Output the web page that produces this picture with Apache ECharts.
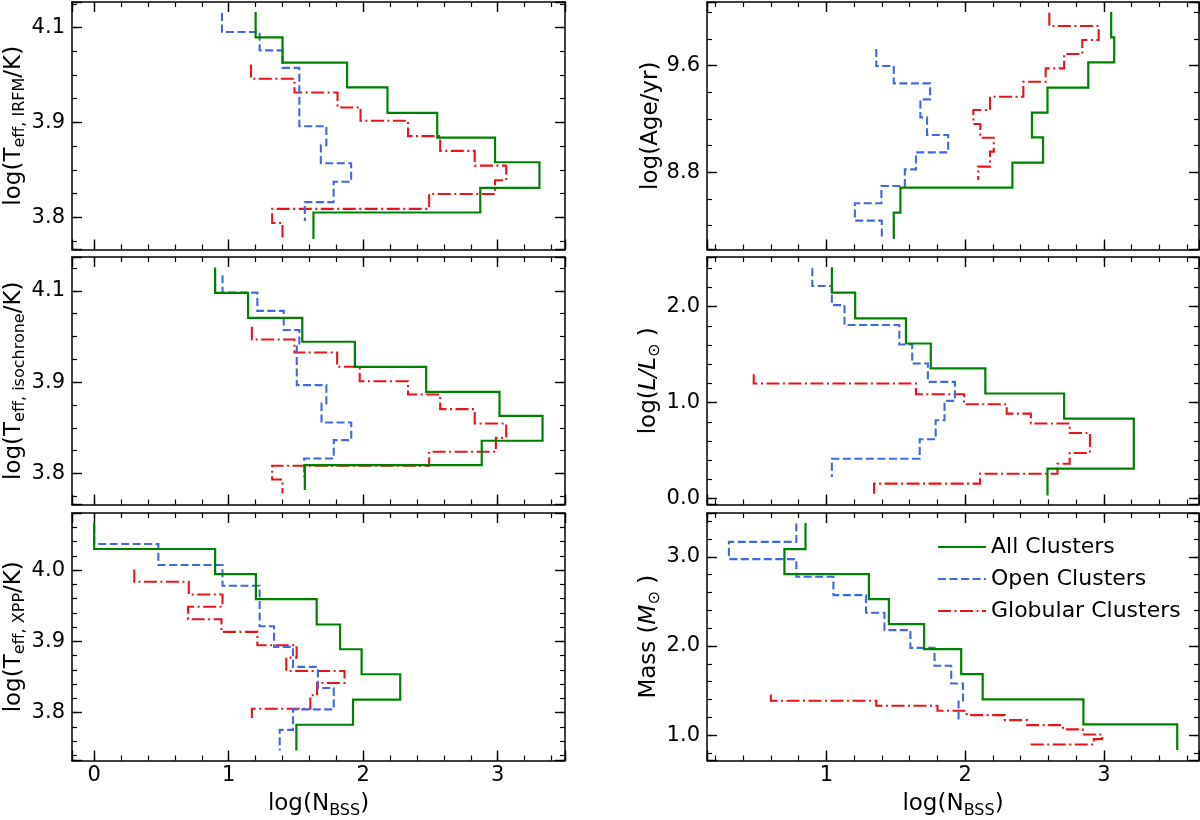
<!DOCTYPE html>
<html><head><meta charset="utf-8">
<script src="https://cdn.jsdelivr.net/npm/echarts@6/dist/echarts.min.js"></script>
<style>html,body{margin:0;padding:0;background:#fff}#chart{width:1200px;height:820px}</style>
</head><body><div id="chart"></div>
<script>
// ---------------- DATA ----------------
const seriesNames = ['All Clusters', 'Open Clusters', 'Globular Clusters'];

// Panel: log(Teff, IRFM)
const irfmAllEdges = [4.0165, 3.9898, 3.963, 3.937, 3.910, 3.884, 3.858, 3.831, 3.805, 3.777];
const irfmAllLogN = [1.20, 1.40, 1.88, 2.18, 2.55, 2.98, 3.31, 2.87, 1.63];
const irfmOpenEdges = [4.0154, 3.9954, 3.976, 3.9575, 3.896, 3.876, 3.857, 3.8375, 3.816, 3.796];
const irfmOpenLogN = [0.95, 1.23, 1.40, 1.525, 1.726, 1.685, 1.91, 1.78, 1.566];
const irfmGlobEdges = [3.961, 3.946, 3.9316, 3.9158, 3.9018, 3.8856, 3.870, 3.8544, 3.839, 3.8246, 3.8088, 3.794, 3.7786];
const irfmGlobLogN = [1.166, 1.489, 1.809, 1.98, 2.333, 2.572, 2.829, 3.063, 2.98, 2.49, 1.323, 1.40];

// Panel: log(Teff, isochrone)
const isoAllEdges = [4.0255, 3.9978, 3.9704, 3.9442, 3.9168, 3.8894, 3.8631, 3.8358, 3.8091, 3.7818];
const isoAllLogN = [0.899, 1.144, 1.547, 1.938, 2.468, 3.013, 3.333, 2.881, 1.566];
const isoOpenEdges = [4.017, 3.998, 3.978, 3.957, 3.9405, 3.8967, 3.8766, 3.8558, 3.8365, 3.8164, 3.796];
const isoOpenLogN = [0.954, 1.213, 1.409, 1.525, 1.506, 1.726, 1.69, 1.911, 1.781, 1.561];
const isoGlobEdges = [3.9606, 3.9467, 3.9325, 3.9168, 3.901, 3.8865, 3.8704, 3.8547, 3.839, 3.8237, 3.8084, 3.7934, 3.7781];
const isoGlobLogN = [1.172, 1.489, 1.806, 1.974, 2.333, 2.572, 2.829, 3.063, 2.986, 2.490, 1.323, 1.40];

// Panel: log(Teff, XPP)
const xppAllEdges = [4.0665, 4.0295, 3.9944, 3.9593, 3.9237, 3.889, 3.8539, 3.8183, 3.7831, 3.747];
const xppAllLogN = [0, 0.899, 1.202, 1.654, 1.828, 1.988, 2.275, 1.924, 1.503];
const xppOpenEdges = [4.0632, 4.0365, 4.007, 3.978, 3.9213, 3.8923, 3.8642, 3.8347, 3.8047, 3.776, 3.747];
const xppOpenLogN = [0, 0.477, 0.954, 1.23, 1.337, 1.478, 1.663, 1.781, 1.478, 1.379];
const xppGlobEdges = [4.0009, 3.9836, 3.9658, 3.9485, 3.9311, 3.9133, 3.8946, 3.8773, 3.8585, 3.8417, 3.8244, 3.8056, 3.7892];
const xppGlobLogN = [0.298, 0.703, 0.954, 0.698, 0.946, 1.213, 1.505, 1.428, 1.861, 1.657, 1.607, 1.172];

// Panel: log(Age/yr)
const ageAllEdges = [10.005, 9.8125, 9.625, 9.435, 9.2475, 9.0625, 8.8725, 8.685, 8.4975, 8.30];
const ageAllLogN = [3.053, 3.075, 2.888, 2.594, 2.482, 2.562, 2.341, 1.534, 1.486];
const ageOpenEdges = [9.725, 9.5975, 9.4675, 9.3475, 9.2125, 9.08, 8.95, 8.8225, 8.6975, 8.5675, 8.4375, 8.305];
const ageOpenLogN = [1.36, 1.486, 1.748, 1.678, 1.726, 1.878, 1.646, 1.566, 1.397, 1.206, 1.40];
const ageGlobEdges = [9.9975, 9.8975, 9.7925, 9.6875, 9.58, 9.48, 9.3675, 9.2675, 9.1625, 9.06, 8.955, 8.8425, 8.7425];
const ageGlobLogN = [2.607, 2.963, 2.845, 2.714, 2.581, 2.42, 2.18, 2.06, 2.11, 2.207, 2.18, 2.095];

// Panel: log(L/Lsun)
const lumAllEdges = [2.41, 2.146, 1.878, 1.617, 1.357, 1.096, 0.835, 0.313, 0.035];
const lumAllLogN = [1.04, 1.208, 1.574, 1.753, 2.146, 2.714, 3.216, 2.594];
const lumOpenEdges = [2.40, 2.216, 2.017, 1.809, 1.607, 1.409, 1.217, 1.019, 0.817, 0.619, 0.417, 0.226];
const lumOpenLogN = [0.899, 1.04, 1.131, 1.526, 1.619, 1.732, 1.927, 1.852, 1.788, 1.673, 1.04];
const lumGlobEdges = [1.297, 1.20, 1.089, 0.984, 0.887, 0.783, 0.685, 0.477, 0.365, 0.261, 0.157, 0.052];
const lumGlobLogN = [0.477, 1.646, 1.993, 2.30, 2.474, 2.754, 2.90, 2.754, 2.666, 2.108, 1.344];

// Panel: Mass (Msun)
const massAllEdges = [3.381, 3.086, 2.806, 2.525, 2.245, 1.964, 1.684, 1.40, 1.12, 0.832];
const massAllLogN = [0.85, 0.698, 1.307, 1.451, 1.705, 1.972, 2.127, 2.853, 3.529];
const massOpenEdges = [3.374, 3.168, 2.974, 2.776, 2.570, 2.372, 2.178, 1.979, 1.778, 1.579, 1.374, 1.176];
const massOpenLogN = [0.784, 0.298, 0.784, 1.051, 1.286, 1.419, 1.606, 1.78, 1.90, 1.985, 1.953];
const massGlobEdges = [1.456, 1.385, 1.329, 1.273, 1.224, 1.168, 1.112, 1.064, 1.007, 0.955, 0.895, 0.85];
const massGlobLogN = [0.60, 1.36, 1.801, 2.012, 2.287, 2.447, 2.706, 2.848, 2.989, 2.928, 2.479];

// Tick label values / texts and tick spacings
const leftXMajor = [0, 1, 2, 3];
const leftXLabels = ['0', '1', '2', '3'];
const rightXMajor = [1, 2, 3];
const rightXLabels = ['1', '2', '3'];
const xMajorStep = 1, xMinorStep = 0.2;

const teffYMajor = [3.8, 3.9, 4.0];
const teffYLabels = ['3.8', '3.9', '4.1'];
const teffMajorStep = 0.1, teffMinorStep = 0.025;
const xppYMajor = [3.8, 3.9, 4.0];
const xppYLabels = ['3.8', '3.9', '4.0'];
const xppMajorStep = 0.1, xppMinorStep = 0.02;
const ageYMajor = [8.8, 9.6];
const ageYLabels = ['8.8', '9.6'];
const ageMajorStep = 0.8, ageMinorStep = 0.2;
const lumYMajor = [0, 1, 2];
const lumYLabels = ['0.0', '1.0', '2.0'];
const lumMajorStep = 1, lumMinorStep = 0.2;
const massYMajor = [1, 2, 3];
const massYLabels = ['1.0', '2.0', '3.0'];
const massMajorStep = 1, massMinorStep = 0.2;

// ---------------- STYLE / LAYOUT ----------------
const FONT = 'DejaVu Sans';
const colors = ['#008000', '#4169e1', '#e8141c'];
const lineTypes = ['solid', [8, 3.5], [13, 3.5, 2, 3.5]];
const lineWidths = [2.2, 2.1, 2.1];

const richStyles = {
  m: { fontSize: 23, fontFamily: FONT, color: '#000' },
  i: { fontSize: 23, fontFamily: FONT, color: '#000', fontStyle: 'italic' },
  s: { fontSize: 16, fontFamily: FONT, color: '#000', padding: [12, 0, 0, 0] }
};

const LEFT = { left: 72, width: 493, xMin: -0.165, xMax: 3.5, xMajor: leftXMajor, xLabels: leftXLabels };
const RIGHT = { left: 707, width: 492, xMin: 0.14, xMax: 3.686, xMajor: rightXMajor, xLabels: rightXLabels };
const ROWS = [2, 257, 513];
const ROW_H = 247.5;

const panels = [
  { col: LEFT, row: 0, yMin: 3.766, yMax: 4.027, yMajor: teffYMajor, yLabels: teffYLabels, yStep: teffMajorStep, yMinorStep: teffMinorStep,
    yName: '{m|log(T}{s|eff, IRFM}{m|/K)}',
    data: [[irfmAllEdges, irfmAllLogN], [irfmOpenEdges, irfmOpenLogN], [irfmGlobEdges, irfmGlobLogN]] },
  { col: RIGHT, row: 0, yMin: 8.221, yMax: 10.078, yMajor: ageYMajor, yLabels: ageYLabels, yStep: ageMajorStep, yMinorStep: ageMinorStep,
    yName: '{m|log(Age/yr)}',
    data: [[ageAllEdges, ageAllLogN], [ageOpenEdges, ageOpenLogN], [ageGlobEdges, ageGlobLogN]] },
  { col: LEFT, row: 1, yMin: 3.766, yMax: 4.037, yMajor: teffYMajor, yLabels: teffYLabels, yStep: teffMajorStep, yMinorStep: teffMinorStep,
    yName: '{m|log(T}{s|eff, isochrone}{m|/K)}',
    data: [[isoAllEdges, isoAllLogN], [isoOpenEdges, isoOpenLogN], [isoGlobEdges, isoGlobLogN]] },
  { col: RIGHT, row: 1, yMin: -0.060, yMax: 2.518, yMajor: lumYMajor, yLabels: lumYLabels, yStep: lumMajorStep, yMinorStep: lumMinorStep,
    yName: '{m|log(}{i|L/L}{s|⊙}{m| )}',
    data: [[lumAllEdges, lumAllLogN], [lumOpenEdges, lumOpenLogN], [lumGlobEdges, lumGlobLogN]] },
  { col: LEFT, row: 2, yMin: 3.733, yMax: 4.080, yMajor: xppYMajor, yLabels: xppYLabels, yStep: xppMajorStep, yMinorStep: xppMinorStep,
    yName: '{m|log(T}{s|eff, XPP}{m|/K)}',
    data: [[xppAllEdges, xppAllLogN], [xppOpenEdges, xppOpenLogN], [xppGlobEdges, xppGlobLogN]] },
  { col: RIGHT, row: 2, yMin: 0.715, yMax: 3.492, yMajor: massYMajor, yLabels: massYLabels, yStep: massMajorStep, yMinorStep: massMinorStep,
    yName: '{m|Mass (}{i|M}{s|⊙}{m| )}',
    data: [[massAllEdges, massAllLogN], [massOpenEdges, massOpenLogN], [massGlobEdges, massGlobLogN]] }
];

function labelFmt(major, labels) {
  return function (v) {
    for (let k = 0; k < major.length; k++) if (Math.abs(major[k] - v) < 1e-6) return labels[k];
    return '';
  };
}

function stairs(edges, vals) {
  const pts = [];
  for (let k = 0; k < vals.length; k++) {
    pts.push([vals[k], edges[k]]);
    pts.push([vals[k], edges[k + 1]]);
  }
  return pts;
}

const grid = [], xAxis = [], yAxis = [], series = [];
const AX = { color: '#000', width: 1.5 };
const HIDDEN_LINE = { show: false, onZero: false };
const MAJ_TICK = { color: '#000', width: 1.4 };
const MIN_TICK = { color: '#000', width: 1.2 };

function tickAxis(base, position, step, len, withLine) {
  return Object.assign({}, base, {
    position: position,
    minInterval: step, maxInterval: step,
    axisLine: withLine ? { show: true, onZero: false, lineStyle: AX } : HIDDEN_LINE,
    axisTick: { show: true, inside: true, length: len, lineStyle: len > 6 ? MAJ_TICK : MIN_TICK },
    axisLabel: { show: false }
  });
}

panels.forEach(function (p, pi) {
  grid.push({ left: p.col.left, top: ROWS[p.row], width: p.col.width, height: ROW_H });
  const bottomRow = p.row === 2;
  const xBase = { gridIndex: pi, type: 'value', min: p.col.xMin, max: p.col.xMax, splitLine: { show: false } };
  const yBase = { gridIndex: pi, type: 'value', min: p.yMin, max: p.yMax, splitLine: { show: false } };

  // x main (bottom) with labels
  const xMain = tickAxis(xBase, 'bottom', xMajorStep, 10, true);
  xMain.axisLabel = { show: bottomRow, customValues: p.col.xMajor, formatter: labelFmt(p.col.xMajor, p.col.xLabels),
    fontSize: 21, fontFamily: FONT, color: '#000', margin: 5 };
  if (bottomRow) {
    xMain.name = '{m|log(N}{s|BSS}{m|)}';
    xMain.nameLocation = 'middle';
    xMain.nameGap = 30;
    xMain.nameTextStyle = { rich: richStyles };
  }
  xAxis.push(xMain);
  xAxis.push(tickAxis(xBase, 'bottom', xMinorStep, 5, false));
  xAxis.push(tickAxis(xBase, 'top', xMajorStep, 10, true));
  xAxis.push(tickAxis(xBase, 'top', xMinorStep, 5, false));

  // y main (left) with labels
  const yMain = tickAxis(yBase, 'left', p.yStep, 10, true);
  yMain.axisLabel = { show: true, customValues: p.yMajor, formatter: labelFmt(p.yMajor, p.yLabels),
    fontSize: 21, fontFamily: FONT, color: '#000', margin: 7 };
  yMain.name = p.yName;
  yMain.nameLocation = 'middle';
  yMain.nameGap = 44;
  yMain.nameTextStyle = { rich: richStyles };
  yAxis.push(yMain);
  yAxis.push(tickAxis(yBase, 'left', p.yMinorStep, 5, false));
  yAxis.push(tickAxis(yBase, 'right', p.yStep, 10, true));
  yAxis.push(tickAxis(yBase, 'right', p.yMinorStep, 5, false));

  p.data.forEach(function (d, si) {
    series.push({
      name: seriesNames[si], type: 'line', xAxisIndex: pi * 4, yAxisIndex: pi * 4,
      data: stairs(d[0], d[1]), showSymbol: false, symbol: 'none', z: 10 - si,
      lineStyle: { color: colors[si], width: lineWidths[si], type: lineTypes[si], cap: 'butt', join: 'miter' },
      itemStyle: { color: colors[si] },
      emphasis: { disabled: true }, silent: true
    });
  });
});

const chart = echarts.init(document.getElementById('chart'), null, { renderer: 'canvas' });
chart.setOption({
  animation: false,
  backgroundColor: '#fff',
  grid: grid, xAxis: xAxis, yAxis: yAxis, series: series,
  legend: {
    data: seriesNames, orient: 'vertical', left: 932, top: 531,
    itemWidth: 48, itemHeight: 14, itemGap: 10,
    itemStyle: { opacity: 0 },
    textStyle: { fontSize: 22, fontFamily: FONT, color: '#000' }
  }
});
</script></body></html>
